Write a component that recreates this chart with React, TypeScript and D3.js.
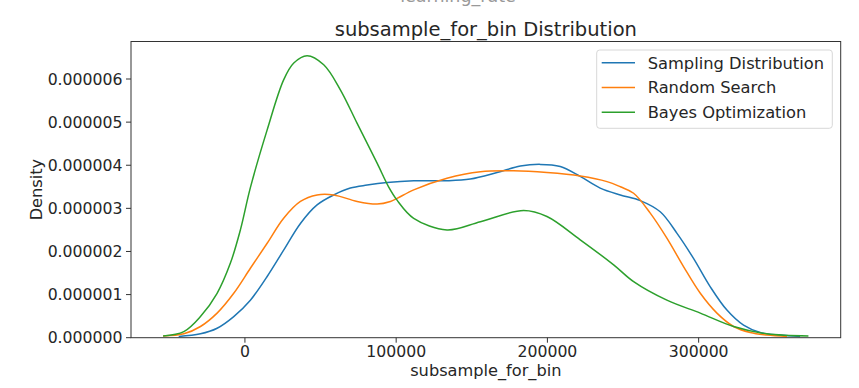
import * as d3 from 'd3';

// x values in units of 1000, density in units of 1e-6
const samplingX = [-43.8, -29.4, -18.4, -7.4, 3.6, 14.7, 25.6, 36.7, 47.7, 58.7, 69.7, 80.8, 94.0, 111.6, 133.6, 149.0, 166.7, 182.1, 195.3, 208.5, 221.7, 234.9, 248.2, 261.4, 274.6, 285.7, 296.6, 307.7, 318.7, 329.7, 340.7, 353.9, 367.1];
const samplingY = [0.03, 0.09, 0.22, 0.49, 0.87, 1.42, 2.03, 2.65, 3.08, 3.31, 3.47, 3.54, 3.6, 3.64, 3.64, 3.68, 3.83, 3.98, 4.02, 3.97, 3.74, 3.47, 3.31, 3.18, 2.92, 2.42, 1.84, 1.18, 0.64, 0.29, 0.12, 0.06, 0.03];

const randomX = [-54.1, -40.4, -29.4, -18.4, -7.4, 3.6, 14.7, 25.6, 36.7, 47.7, 58.7, 74.2, 87.4, 96.2, 100.6, 111.6, 133.6, 155.7, 177.7, 199.7, 221.7, 239.4, 248.2, 257.0, 268.0, 279.0, 290.0, 301.1, 312.1, 323.1, 334.1, 345.1, 358.4];
const randomY = [0.04, 0.09, 0.26, 0.57, 1.03, 1.61, 2.19, 2.77, 3.16, 3.31, 3.31, 3.16, 3.1, 3.16, 3.23, 3.43, 3.7, 3.85, 3.87, 3.83, 3.75, 3.62, 3.5, 3.35, 2.89, 2.31, 1.65, 1.03, 0.57, 0.26, 0.12, 0.06, 0.03];

const bayesX = [-54.1, -40.4, -29.4, -18.4, -9.6, -3.0, 3.6, 14.7, 25.6, 32.3, 41.1, 52.1, 63.1, 74.2, 87.4, 95.0, 100.6, 111.6, 133.6, 155.7, 184.3, 199.7, 221.7, 243.8, 257.0, 279.0, 301.1, 323.1, 345.1, 372.6];
const bayesY = [0.04, 0.14, 0.49, 1.03, 1.73, 2.5, 3.48, 4.82, 5.98, 6.37, 6.54, 6.33, 5.75, 4.97, 4.05, 3.5, 3.19, 2.77, 2.5, 2.69, 2.95, 2.81, 2.27, 1.69, 1.3, 0.87, 0.57, 0.26, 0.09, 0.04];

const seriesNames = ['Sampling Distribution', 'Random Search', 'Bayes Optimization'];
const colors = ['#1f77b4', '#ff7f0e', '#2ca02c'];
const xTicks = [0, 100000, 200000, 300000];
const yTicks = [0, 1e-6, 2e-6, 3e-6, 4e-6, 5e-6, 6e-6];

const W = 859;
const H = 388;
const m = { left: 131, right: 840.7, top: 41.5, bottom: 337.7 };
const font = 'DejaVu Sans';
const ink = '#262626';

export default function App() {
  const x = d3.scaleLinear().domain([-75330, 393930]).range([m.left, m.right]);
  const y = d3.scaleLinear().domain([0, 6.87e-6]).range([m.bottom, m.top]);

  const series = [
    [samplingX, samplingY],
    [randomX, randomY],
    [bayesX, bayesY],
  ].map(([xs, ys]) => xs.map((v, i) => [v * 1000, ys[i] * 1e-6] as [number, number]));

  const line = d3
    .line<[number, number]>()
    .x((d) => x(d[0]))
    .y((d) => y(d[1]))
    .curve(d3.curveCatmullRom.alpha(0.5));

  const cx = (m.left + m.right) / 2;
  const cy = (m.top + m.bottom) / 2;

  return (
    <svg
      width={W}
      height={H}
      style={{ position: 'absolute', left: 0, top: 0, background: '#fff' }}
      fontFamily={font}
    >
      <text x={458} y={2} textAnchor="middle" fontSize={17.5} fill="#999">
        learning_rate
      </text>
      <text x={cx} y={36} textAnchor="middle" fontSize={19.5} fill={ink}>
        subsample_for_bin Distribution
      </text>

      {series.map((pts, i) => (
        <path key={i} d={line(pts) ?? ''} fill="none" stroke={colors[i]} strokeWidth={1.5} />
      ))}

      <rect
        x={m.left}
        y={m.top}
        width={m.right - m.left}
        height={m.bottom - m.top}
        fill="none"
        stroke="#333"
        strokeWidth={1}
      />

      {xTicks.map((t) => (
        <g key={t} transform={`translate(${x(t)},0)`}>
          <line y1={m.bottom} y2={m.bottom + 5} stroke="#333" />
          <text y={356.5} textAnchor="middle" fontSize={15.7} fill={ink}>
            {t}
          </text>
        </g>
      ))}
      {yTicks.map((t) => (
        <g key={t} transform={`translate(0,${y(t)})`}>
          <line x1={m.left - 5} x2={m.left} stroke="#333" />
          <text x={122.5} y={5.7} textAnchor="end" fontSize={15.7} fill={ink}>
            {t.toFixed(6)}
          </text>
        </g>
      ))}

      <text x={cx} y={376} textAnchor="middle" fontSize={16.2} fill={ink}>
        subsample_for_bin
      </text>
      <text transform={`translate(42,${cy}) rotate(-90)`} textAnchor="middle" fontSize={16.2} fill={ink}>
        Density
      </text>

      <g>
        <rect x={596.7} y={50} width={235.6} height={78.3} rx={3} fill="#fff" fillOpacity={0.8} stroke="#d8d8d8" />
        {seriesNames.map((name, i) => {
          const ry = 62.7 + i * 24.8;
          return (
            <g key={name}>
              <line x1={601.7} x2={635} y1={ry} y2={ry} stroke={colors[i]} strokeWidth={1.5} />
              <text x={647.7} y={ry + 5.8} fontSize={16.3} fill={ink}>
                {name}
              </text>
            </g>
          );
        })}
      </g>
    </svg>
  );
}
